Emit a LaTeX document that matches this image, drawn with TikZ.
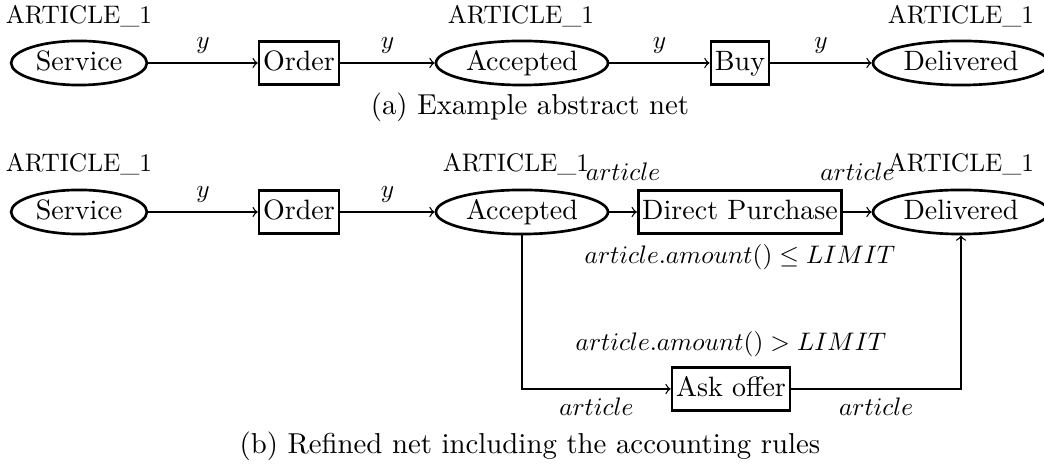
\documentclass[tikz,border=0pt]{standalone}
\usepackage{fontspec}
\usetikzlibrary{shapes.geometric}
\newcommand\nodefnt{\fontsize{10.5}{12}\selectfont}
\newcommand\capfnt{\fontsize{10.8}{13}\selectfont}
\tikzset{
  place/.style={ellipse, draw, line width=1pt, inner xsep=1.8pt, inner ysep=1pt, text height=7.5pt, text depth=2.2pt, font=\nodefnt},
  trans/.style={rectangle, draw, line width=1pt, inner xsep=1.5pt, inner ysep=3.3pt, text height=7.5pt, text depth=2.2pt, font=\nodefnt},
  lab/.style={font=\normalsize, scale=0.95, transform shape},
  capt/.style={font=\capfnt},
  arc/.style={->, line width=0.5pt},
}
\begin{document}
\begin{tikzpicture}[x=0.375pt,y=-0.375pt]
\useasboundingbox (0,0) rectangle (1044,465);
% ---------- (a) ----------
\node[place] (s1) at (79,63) {Service};
\node[trans] (o1) at (299,63) {Order};
\node[place] (a1) at (522,63) {Accepted};
\node[trans] (b1) at (740,63) {Buy};
\node[place] (d1) at (961,63) {Delivered};
\node[lab] (s1l) at (79,16) {ARTICLE\_1};
\node[lab] (a1l) at (521,16) {ARTICLE\_1};
\node[lab] (d1l) at (961,16) {ARTICLE\_1};
\draw[arc] (s1) -- node[lab,above]{$y$} (o1);
\draw[arc] (o1) -- node[lab,above]{$y$} (a1);
\draw[arc] (a1) -- node[lab,above]{$y$} (b1);
\draw[arc] (b1) -- node[lab,above]{$y$} (d1);
\node[capt] (ca) at (530,107) {(a) Example abstract net};
% ---------- (b) ----------
\node[place] (s2) at (79,212) {Service};
\node[trans] (o2) at (299,212) {Order};
\node[place] (a2) at (522,212) {Accepted};
\node[trans] (dp) at (740,212) {Direct Purchase};
\node[place] (d2) at (961,212) {Delivered};
\node[trans] (ask) at (731,389) {Ask offer};
\node[lab] (s2l) at (79,164) {ARTICLE\_1};
\node[lab] (a2l) at (516,164) {ARTICLE\_1};
\node[lab] (d2l) at (961,164) {ARTICLE\_1};
\node[lab,anchor=north] (c1) at (dp.south) {$article.amount() \leq LIMIT$};
\node[lab,anchor=south] (c2) at (ask.north) {$article.amount() > LIMIT$};
\draw[arc] (s2) -- node[lab,above]{$y$} (o2);
\draw[arc] (o2) -- node[lab,above]{$y$} (a2);
\draw[arc] (a2) -- node[lab,above,yshift=9pt]{$article$} (dp);
\draw[arc] (dp) -- node[lab,above,yshift=9pt]{$article$} (d2);
\draw[arc] (a2) |- node[lab,below,pos=0.75]{$article$} (ask);
\draw[arc] (ask) -| node[lab,below,pos=0.25]{$article$} (d2);
\node[capt] (cb) at (530,446) {(b) Refined net including the accounting rules};
\end{tikzpicture}
\end{document}
